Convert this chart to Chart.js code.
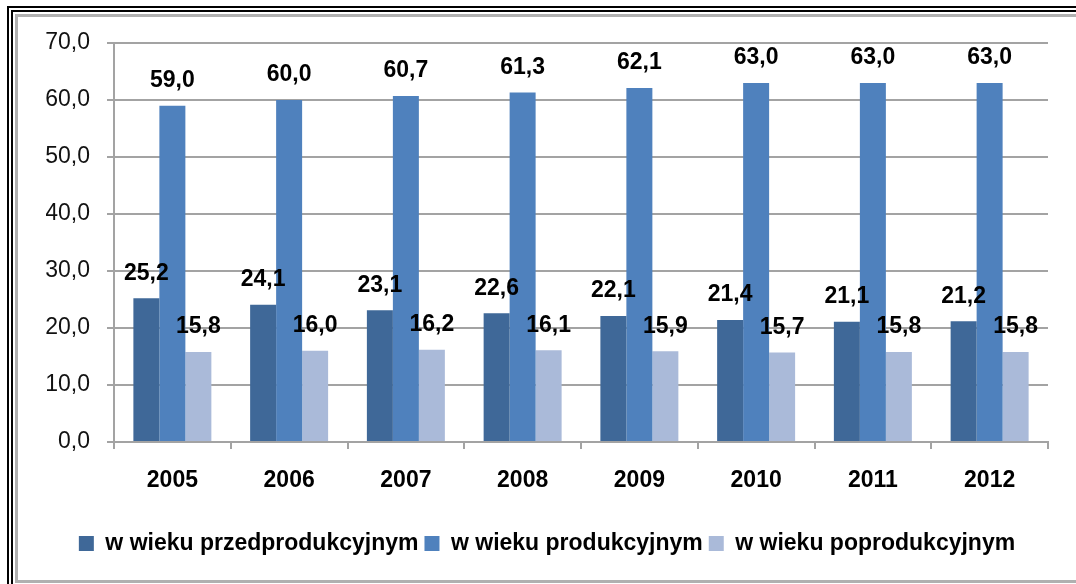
<!DOCTYPE html>
<html>
<head>
<meta charset="utf-8">
<script src="https://cdn.jsdelivr.net/npm/chart.js@4.4.1/dist/chart.umd.min.js"></script>
<style>
  html, body { margin: 0; padding: 0; background: #fff; overflow: hidden; }
  #wrap { position: relative; width: 1076px; height: 584px; }
  canvas { position: absolute; left: 0; top: 0; }
  .b { position: absolute; pointer-events: none; box-sizing: border-box; }
</style>
</head>
<body>
<div id="wrap">
  <canvas id="c" width="1076" height="584"></canvas>
  <div class="b" style="left:7px;top:6px;width:1100px;height:600px;border-left:2px solid #000;border-top:2px solid #000;"></div>
  <div class="b" style="left:11px;top:10px;width:1100px;height:600px;border-left:2px solid #000;border-top:2px solid #000;"></div>
  <div class="b" style="left:15px;top:14px;width:1100px;height:569px;border-left:3px solid #b0b0b0;border-top:3px solid #b0b0b0;border-bottom:3px solid #b0b0b0;"></div>
</div>
<script>
const categories = ['2005', '2006', '2007', '2008', '2009', '2010', '2011', '2012'];
const seriesNames = ['w wieku przedprodukcyjnym', 'w wieku produkcyjnym', 'w wieku poprodukcyjnym'];
const przedprodukcyjny = [25.2, 24.1, 23.1, 22.6, 22.1, 21.4, 21.1, 21.2];
const produkcyjny = [59.0, 60.0, 60.7, 61.3, 62.1, 63.0, 63.0, 63.0];
const poprodukcyjny = [15.8, 16.0, 16.2, 16.1, 15.9, 15.7, 15.8, 15.8];
const yTicks = [0, 10, 20, 30, 40, 50, 60, 70];

const fmt = v => Number(v).toFixed(1).replace('.', ',');
const FONT = "'Liberation Sans', Arial, sans-serif";
const GRID = '#a3a3a3';

const valueLabels = {
  id: 'valueLabels',
  afterDatasetsDraw(chart) {
    const ctx = chart.ctx;
    ctx.save();
    ctx.font = "bold 23px " + FONT;
    ctx.fillStyle = '#000';
    ctx.textAlign = 'center';
    ctx.textBaseline = 'middle';
    chart.data.datasets.forEach((ds, i) => {
      const meta = chart.getDatasetMeta(i);
      meta.data.forEach((el, j) => {
        ctx.fillText(fmt(ds.data[j]), el.x, el.y - 25);
      });
    });
    ctx.restore();
  }
};

new Chart(document.getElementById('c'), {
  type: 'bar',
  data: {
    labels: categories,
    datasets: [
      { label: seriesNames[0], data: przedprodukcyjny, backgroundColor: '#3f6898' },
      { label: seriesNames[1], data: produkcyjny, backgroundColor: '#4f81bd' },
      { label: seriesNames[2], data: poprodukcyjny, backgroundColor: '#aabad9' }
    ]
  },
  options: {
    responsive: false,
    devicePixelRatio: 1,
    animation: false,
    events: [],
    datasets: { bar: { categoryPercentage: 0.668, barPercentage: 1.0, borderWidth: 0 } },
    layout: { padding: { left: 46, right: 28, top: 43, bottom: 19 } },
    plugins: {
      tooltip: { enabled: false },
      legend: {
        position: 'bottom',
        labels: {
          boxWidth: 15,
          boxHeight: 15,
          padding: 6,
          color: '#000',
          font: { family: FONT, size: 23, weight: 'bold' }
        }
      }
    },
    scales: {
      x: {
        afterFit(scale) { scale.height = 84; },
        grid: { display: true, drawOnChartArea: false, drawTicks: true, tickLength: 7, color: GRID, lineWidth: 2 },
        border: { display: true, color: GRID, width: 2 },
        ticks: { color: '#000', padding: 18, font: { family: FONT, size: 23, weight: 'bold' } }
      },
      y: {
        min: 0,
        max: 70,
        afterFit(scale) { scale.width = 68; },
        afterBuildTicks(scale) { scale.ticks = yTicks.map(v => ({ value: v })); },
        grid: { color: GRID, lineWidth: 2, drawTicks: true, tickLength: 7 },
        border: { display: true, color: GRID, width: 2 },
        ticks: {
          color: '#111',
          padding: 17,
          font: { family: FONT, size: 23 },
          callback: v => fmt(v)
        }
      }
    }
  },
  plugins: [valueLabels]
});
</script>
</body>
</html>
